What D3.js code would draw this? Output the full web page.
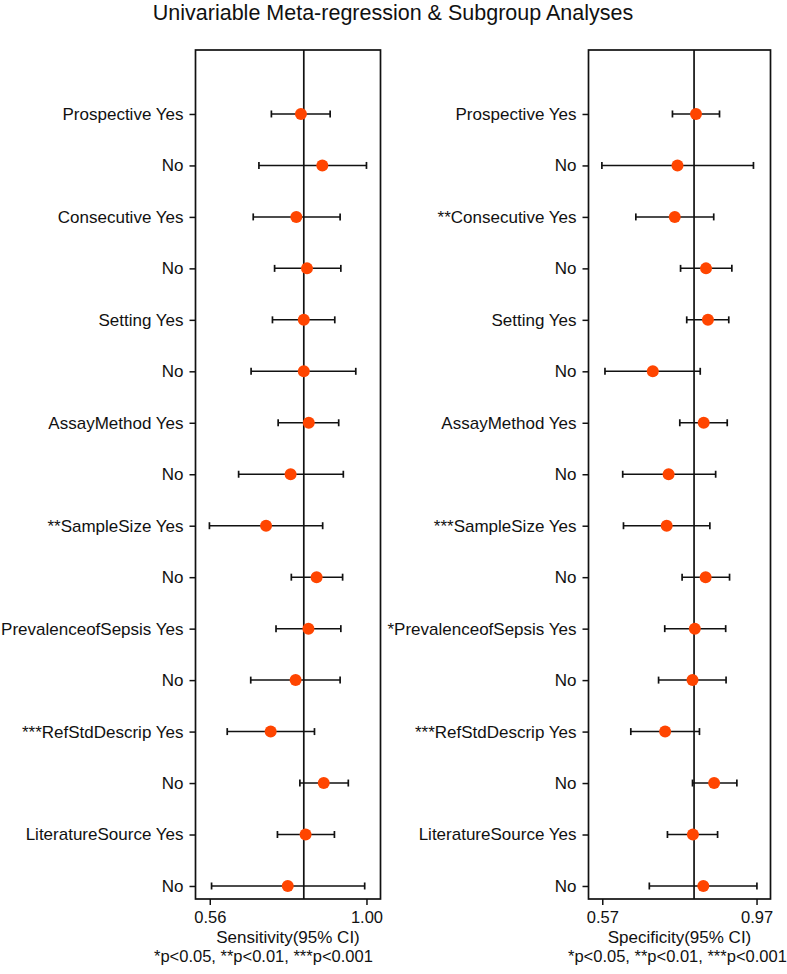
<!DOCTYPE html>
<html>
<head>
<meta charset="utf-8">
<script src="https://cdn.jsdelivr.net/npm/d3@7"></script>
<style>
  html, body { margin: 0; padding: 0; background: #fff; }
  svg { display: block; font-family: "Liberation Sans", Arial, Helvetica, sans-serif; }
</style>
</head>
<body>
<svg id="chart" width="787" height="974"></svg>
<script>
// ---------- data ----------
const sensLabels = ["Prospective Yes","No","Consecutive Yes","No","Setting Yes","No","AssayMethod Yes","No",
  "**SampleSize Yes","No","PrevalenceofSepsis Yes","No","***RefStdDescrip Yes","No","LiteratureSource Yes","No"];
const specLabels = ["Prospective Yes","No","**Consecutive Yes","No","Setting Yes","No","AssayMethod Yes","No",
  "***SampleSize Yes","No","*PrevalenceofSepsis Yes","No","***RefStdDescrip Yes","No","LiteratureSource Yes","No"];

const sensEst = [0.816,0.876,0.803,0.833,0.824,0.824,0.838,0.787,0.718,0.860,0.837,0.801,0.731,0.880,0.829,0.779];
const sensLo  = [0.733,0.698,0.682,0.742,0.736,0.676,0.752,0.641,0.559,0.789,0.746,0.675,0.609,0.813,0.750,0.565];
const sensHi  = [0.898,1.000,0.926,0.928,0.911,0.970,0.922,0.935,0.877,0.933,0.928,0.926,0.854,0.949,0.910,0.995];

const specEst = [0.813,0.765,0.758,0.839,0.844,0.701,0.833,0.742,0.737,0.838,0.810,0.804,0.733,0.860,0.805,0.832];
const specLo  = [0.752,0.569,0.657,0.773,0.789,0.577,0.771,0.623,0.625,0.777,0.732,0.716,0.644,0.804,0.739,0.692];
const specHi  = [0.874,0.962,0.859,0.906,0.898,0.824,0.894,0.864,0.849,0.900,0.890,0.891,0.822,0.919,0.869,0.971];

const sensTicks = [0.56, 1.00];
const specTicks = [0.57, 0.97];
const sensRef = 0.824;
const specRef = 0.808;

const title = "Univariable Meta-regression & Subgroup Analyses";
const sensTitle = "Sensitivity(95% CI)";
const specTitle = "Specificity(95% CI)";
const footnote = "*p<0.05, **p<0.01, ***p<0.001";

// ---------- layout ----------
const svg = d3.select("#chart");
const dotColor = "#FF4500";
const fontSize = 17;
const smallSize = 16.5;

const y = d3.scaleLinear().domain([-1.243, 15.253]).range([50, 899]);

svg.append("text")
  .attr("x", 393).attr("y", 20)
  .attr("text-anchor", "middle")
  .attr("font-size", 21.5)
  .attr("fill", "#111")
  .text(title);

function panel(cfg) {
  const x = d3.scaleLinear().domain(cfg.domain).range([cfg.x0, cfg.x1]);
  const g = svg.append("g");
  const top = y.range()[0], bot = y.range()[1];

  // reference line
  g.append("line")
    .attr("x1", x(cfg.ref)).attr("x2", x(cfg.ref))
    .attr("y1", top).attr("y2", bot)
    .attr("stroke", "#111").attr("stroke-width", 1.7);

  // y-axis ticks and labels
  const yAxis = d3.axisLeft(y).tickValues(d3.range(cfg.labels.length))
    .tickSize(6).tickPadding(6)
    .tickFormat(i => cfg.labels[i]);
  const ya = g.append("g").attr("transform", `translate(${cfg.x0},0)`).call(yAxis);
  ya.select(".domain").remove();
  ya.selectAll(".tick line").attr("stroke", "#111").attr("stroke-width", 1.5);
  ya.selectAll(".tick text").attr("font-size", fontSize).attr("fill", "#111")
    .attr("font-family", "Liberation Sans, Arial, sans-serif");

  // x-axis
  const xAxis = d3.axisBottom(x).tickValues(cfg.ticks).tickSize(6).tickPadding(6)
    .tickFormat(d3.format(".2f"));
  const xa = g.append("g").attr("transform", `translate(0,${bot})`).call(xAxis);
  xa.select(".domain").remove();
  xa.selectAll(".tick line").attr("stroke", "#111").attr("stroke-width", 1.5);
  xa.selectAll(".tick text").attr("font-size", smallSize).attr("fill", "#111")
    .attr("font-family", "Liberation Sans, Arial, sans-serif");

  // error bars
  const idx = d3.range(cfg.est.length);
  g.selectAll(".ci").data(idx).join("line")
    .attr("x1", i => x(cfg.lo[i])).attr("x2", i => x(cfg.hi[i]))
    .attr("y1", i => y(i)).attr("y2", i => y(i))
    .attr("stroke", "#111").attr("stroke-width", 1.5);
  g.selectAll(".capL").data(idx).join("line")
    .attr("x1", i => x(cfg.lo[i])).attr("x2", i => x(cfg.lo[i]))
    .attr("y1", i => y(i) - 3.5).attr("y2", i => y(i) + 3.5)
    .attr("stroke", "#111").attr("stroke-width", 1.7);
  g.selectAll(".capR").data(idx).join("line")
    .attr("x1", i => x(cfg.hi[i])).attr("x2", i => x(cfg.hi[i]))
    .attr("y1", i => y(i) - 3.5).attr("y2", i => y(i) + 3.5)
    .attr("stroke", "#111").attr("stroke-width", 1.7);

  // points
  g.selectAll(".pt").data(idx).join("circle")
    .attr("cx", i => x(cfg.est[i])).attr("cy", i => y(i)).attr("r", 6)
    .attr("fill", dotColor);

  // frame
  g.append("rect")
    .attr("x", cfg.x0).attr("y", top)
    .attr("width", cfg.x1 - cfg.x0).attr("height", bot - top)
    .attr("fill", "none").attr("stroke", "#111").attr("stroke-width", 1.7);

  // axis title
  g.append("text")
    .attr("x", (cfg.x0 + cfg.x1) / 2).attr("y", 943)
    .attr("text-anchor", "middle").attr("font-size", fontSize).attr("fill", "#111")
    .text(cfg.title);

  // footnote
  g.append("text")
    .attr("x", cfg.footX).attr("y", 962)
    .attr("text-anchor", "start").attr("font-size", smallSize).attr("fill", "#111")
    .text(footnote);
}

panel({ x0: 195.5, x1: 380.5, domain: [0.5199, 1.0394], ref: sensRef, ticks: sensTicks,
  labels: sensLabels, est: sensEst, lo: sensLo, hi: sensHi, title: sensTitle, footX: 154 });
panel({ x0: 588.5, x1: 770.5, domain: [0.5343, 1.0062], ref: specRef, ticks: specTicks,
  labels: specLabels, est: specEst, lo: specLo, hi: specHi, title: specTitle, footX: 568 });
</script>
</body>
</html>
